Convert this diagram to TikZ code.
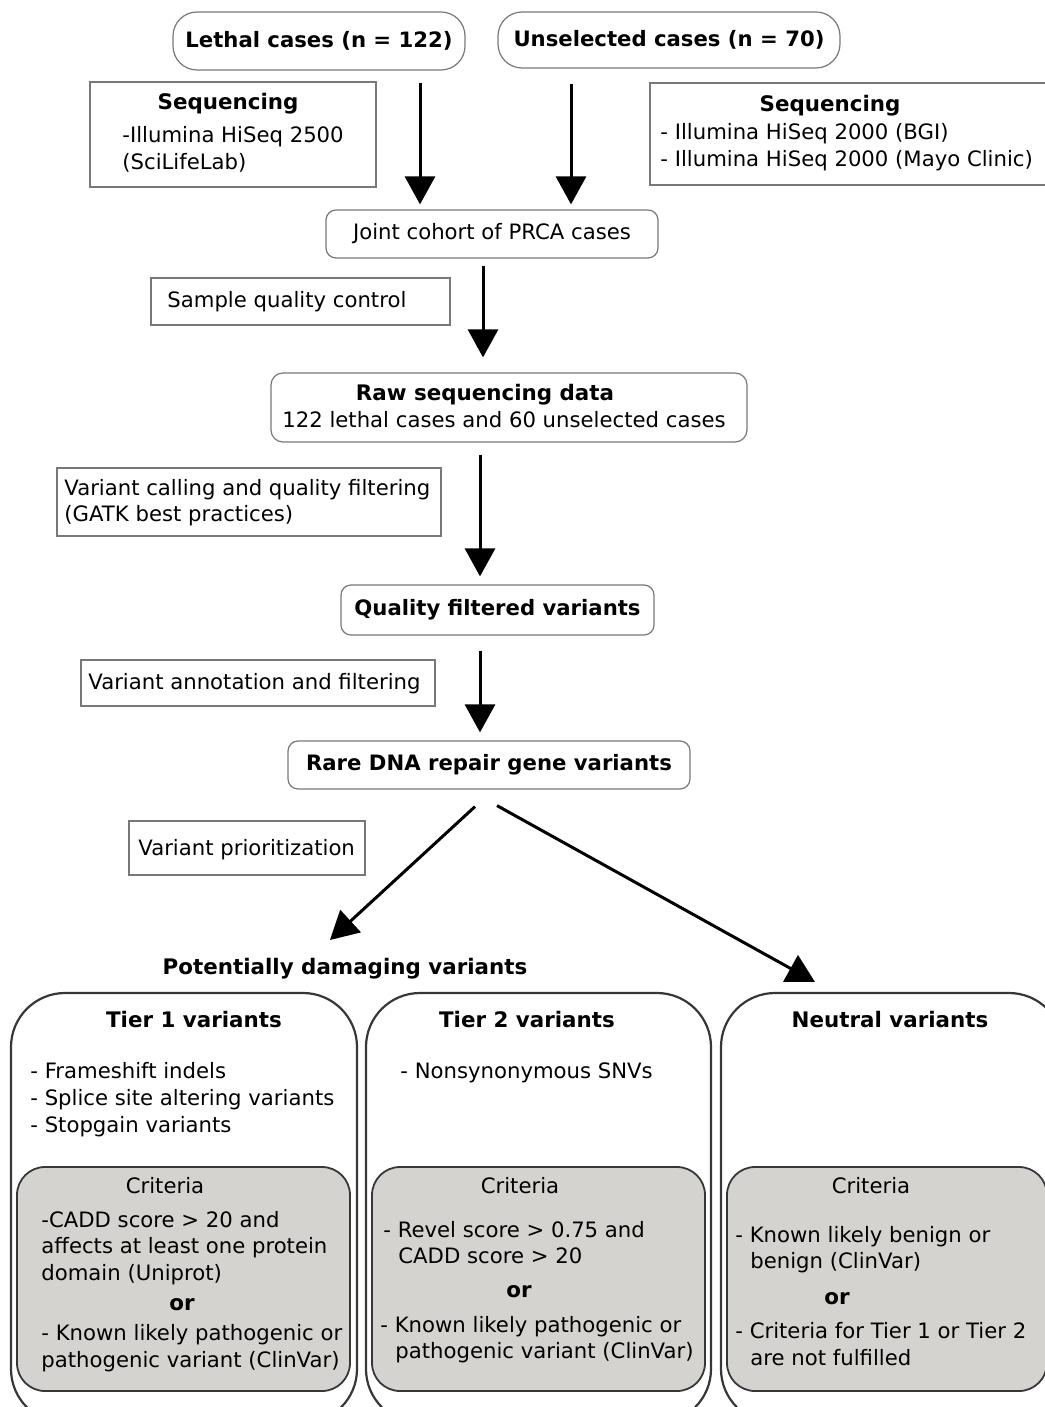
\documentclass[tikz,border=0pt]{standalone}
\usepackage{fontspec}
\setmainfont{DejaVu Sans}
\usetikzlibrary{arrows.meta}
\definecolor{boxline}{RGB}{120,120,120}
\definecolor{darkline}{RGB}{55,55,55}
\definecolor{critfill}{RGB}{212,211,207}
\tikzset{
	casebox/.style={draw=boxline, line width=0.6pt, fill=white, inner sep=0pt},
	notebox/.style={draw=boxline, line width=0.6pt, inner sep=0pt},
	tierbox/.style={draw=darkline, line width=1.1pt, rounded corners=27pt, inner sep=0pt},
	critbox/.style={draw=darkline, line width=0.9pt, fill=critfill, rounded corners=14pt, inner sep=0pt},
	txt/.style={anchor=base west, inner sep=0pt},
	ctr/.style={anchor=base, inner sep=0pt},
	head/.style={ctr, font=\fontsize{10.7}{13}\selectfont\bfseries},
	arr/.style={-{Triangle[width=15pt,length=14pt]}, line width=1.5pt},
}
\begin{document}
\begin{tikzpicture}[x=0.5pt, y=-0.5pt, font=\fontsize{10.6}{13}\selectfont]
		\useasboundingbox (0,0) rectangle (1044,1407);
		\node[casebox, rounded corners=12pt, minimum width=146pt, minimum height=29pt] (lethal) at (319,41) {\textbf{Lethal cases (n = 122)}};
		\node[casebox, rounded corners=12pt, minimum width=171pt, minimum height=28pt] (unsel) at (669,40) {\textbf{Unselected cases (n = 70)}};
		\node[notebox, minimum width=143pt, minimum height=52.5pt] (seqL) at (233,134.5) {};
		\node[head] (seqLhead) at (228,110) {Sequencing};
		\node[txt] (seqLa) at (122,143) {-Illumina HiSeq 2500};
		\node[txt] (seqLb) at (122,170) {(SciLifeLab)};
		\node[notebox, minimum width=201pt, minimum height=51pt] (seqR) at (851,134) {};
		\node[head] (seqRhead) at (830,112) {Sequencing};
		\node[txt] (seqRa) at (660,140) {- Illumina HiSeq 2000 (BGI)};
		\node[txt] (seqRb) at (660,167) {- Illumina HiSeq 2000 (Mayo Clinic)};
		\node[casebox, rounded corners=5pt, minimum width=166pt, minimum height=24pt] (joint) at (492,234) {Joint cohort of PRCA cases};
		\node[notebox, minimum width=149.5pt, minimum height=23.5pt] (sqc) at (300.5,301.5) {};
		\node[txt] (sqctext) at (167,307) {Sample quality control};
		\node[casebox, rounded corners=6pt, minimum width=238pt, minimum height=34.5pt] (raw) at (509,407.5) {};
		\node[head] (rawhead) at (485,400) {Raw sequencing data};
		\node[ctr] (rawtext) at (504,427) {122 lethal cases and 60 unselected cases};
		\node[notebox, minimum width=192pt, minimum height=34pt] (vcall) at (249,502) {};
		\node[txt] (vcalla) at (64,495) {Variant calling and quality filtering};
		\node[txt] (vcallb) at (64,521) {(GATK best practices)};
		\node[casebox, rounded corners=5pt, minimum width=156.5pt, minimum height=25pt] (qual) at (497.5,610) {\textbf{Quality filtered variants}};
		\node[notebox, minimum width=177pt, minimum height=23pt] (vann) at (258,683) {};
		\node[txt] (vanntext) at (88,689) {Variant annotation and filtering};
		\node[casebox, rounded corners=5pt, minimum width=201pt, minimum height=24pt] (rare) at (489,765) {\textbf{Rare DNA repair gene variants}};
		\node[notebox, minimum width=118pt, minimum height=27pt] (vprio) at (247,848) {};
		\node[txt] (vpriotext) at (138,855) {Variant prioritization};
		\node[head] (dmg) at (345,974) {Potentially damaging variants};
		\coordinate (dmgtip) at (330,940);
		\coordinate (neutip) at (815,982);
		\coordinate (ax1) at (420,0);
		\coordinate (ax2) at (571,0);
		\coordinate (ax3) at (483,0);
		\coordinate (ax4) at (480,0);
		\draw[arr] ([yshift=-6pt]lethal.south -| ax1) -- ([yshift=2.5pt]joint.north -| ax1);
		\draw[arr] ([yshift=-7.5pt]unsel.south -| ax2) -- ([yshift=2.5pt]joint.north -| ax2);
		\draw[arr] ([yshift=-3.5pt]joint.south -| ax3) -- ([yshift=7.5pt]raw.north -| ax3);
		\draw[arr] ([yshift=-6pt]raw.south -| ax4) -- ([yshift=4pt]qual.north -| ax4);
		\draw[arr] ([yshift=-7.5pt]qual.south -| ax4) -- ([yshift=4pt]rare.north -| ax4);
		\draw[arr] ([xshift=-7pt,yshift=-8.5pt]rare.south) -- (dmgtip);
		\draw[arr] ([xshift=4pt,yshift=-8pt]rare.south) -- (neutip);
		\node[tierbox, minimum width=173pt, minimum height=215pt] (tier1) at (184,1208) {};
		\node[tierbox, minimum width=172.5pt, minimum height=215pt] (tier2) at (538.5,1208) {};
		\node[tierbox, minimum width=171pt, minimum height=215pt] (neutral) at (892,1208) {};
		\node[critbox, minimum width=166.5pt, minimum height=112pt] (crit1) at (183.5,1279) {};
		\node[critbox, minimum width=166.5pt, minimum height=112pt] (crit2) at (538.5,1279) {};
		\node[critbox, minimum width=160pt, minimum height=112pt] (crit3) at (887,1279) {};
		\node[head] (t1head) at (194,1027) {Tier 1 variants};
		\node[txt] (t1a) at (30,1078) {- Frameshift indels};
		\node[txt] (t1b) at (30,1105) {- Splice site altering variants};
		\node[txt] (t1c) at (30,1132) {- Stopgain variants};
		\node[ctr] (c1head) at (165,1193) {Criteria};
		\node[txt] (c1a) at (41,1227) {-CADD score > 20 and};
		\node[txt] (c1b) at (41,1253) {affects at least one protein};
		\node[txt] (c1c) at (41,1280) {domain (Uniprot)};
		\node[head] (c1or) at (182,1310) {or};
		\node[txt] (c1d) at (41,1340) {- Known likely pathogenic or};
		\node[txt] (c1e) at (41,1367) {pathogenic variant (ClinVar)};
		\node[head] (t2head) at (527,1027) {Tier 2 variants};
		\node[txt] (t2a) at (400,1078) {- Nonsynonymous SNVs};
		\node[ctr] (c2head) at (520,1193) {Criteria};
		\node[txt] (c2a) at (383,1237) {- Revel score > 0.75 and};
		\node[txt] (c2b) at (398,1263) {CADD score > 20};
		\node[head] (c2or) at (519,1297) {or};
		\node[txt] (c2c) at (380,1332) {- Known likely pathogenic or};
		\node[txt] (c2d) at (395,1358) {pathogenic variant (ClinVar)};
		\node[head] (t3head) at (890,1027) {Neutral variants};
		\node[ctr] (c3head) at (871,1193) {Criteria};
		\node[txt] (c3a) at (735,1242) {- Known likely benign or};
		\node[txt] (c3b) at (750,1268) {benign (ClinVar)};
		\node[head] (c3or) at (837,1304) {or};
		\node[txt] (c3c) at (735,1338) {- Criteria for Tier 1 or Tier 2};
		\node[txt] (c3d) at (750,1365) {are not fulfilled};
\end{tikzpicture}
\end{document}
